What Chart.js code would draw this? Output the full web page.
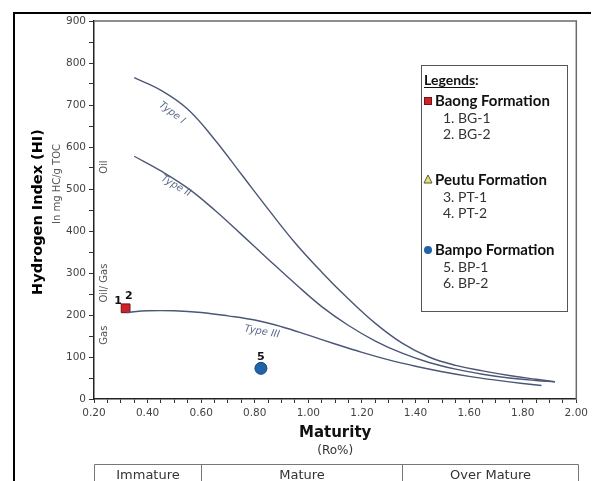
<!DOCTYPE html>
<html>
<head>
<meta charset="utf-8">
<script src="https://cdn.jsdelivr.net/npm/chart.js@4"></script>
<style>
  body { margin: 0; background: #fff; }
  #wrap { width: 592px; height: 481px; }
</style>
</head>
<body>
<div id="wrap"><canvas id="hiChart" width="592" height="481"></canvas></div>
<script>
// kerogen type curves (Ro%, HI)
const typeIRo = [0.35, 0.45, 0.55, 0.65, 0.75, 0.85, 0.95, 1.05, 1.15, 1.25, 1.35, 1.45, 1.55, 1.65, 1.75, 1.85, 1.92];
const typeIHI = [765, 735, 690, 618, 535, 452, 372, 302, 238, 180, 133, 100, 80, 67, 56, 47, 41];
const typeIIRo = [0.35, 0.45, 0.55, 0.65, 0.75, 0.85, 0.95, 1.05, 1.15, 1.25, 1.35, 1.45, 1.55, 1.65, 1.75, 1.85, 1.92];
const typeIIHI = [578, 543, 502, 450, 392, 333, 275, 220, 175, 138, 109, 87, 71, 59, 50, 44, 41];
const typeIIIRo = [0.32, 0.40, 0.50, 0.60, 0.70, 0.80, 0.90, 1.00, 1.10, 1.20, 1.30, 1.40, 1.50, 1.60, 1.70, 1.80, 1.87];
const typeIIIHI = [206, 210, 210, 206, 198, 188, 172, 152, 131, 111, 93, 78, 65, 54, 45, 37, 32];

// samples
const baongRo = [0.318];
const baongHI = [216];
const peutuRo = [];
const peutuHI = [];
const bampoRo = [0.823];
const bampoHI = [73];

const legendGroups = ['Baong Formation', 'Peutu Formation', 'Bampo Formation'];
const legendItems = [['1. BG-1', '2. BG-2'], ['3. PT-1', '4. PT-2'], ['5. BP-1', '6. BP-2']];
const zoneNames = ['Immature', 'Mature', 'Over Mature'];
const zoneEdges = [0.20, 0.60, 1.35, 2.007];

const pts = (xs, ys) => xs.map((x, i) => ({ x, y: ys[i] }));
const curveColor = '#4a5775';

function curve(label, xs, ys) {
  return {
    label, data: pts(xs, ys), showLine: true, pointRadius: 0,
    borderColor: curveColor, borderWidth: 1.4, tension: 0.4
  };
}

const decor = {
  id: 'decor',
  afterDraw(chart) {
    const { ctx, chartArea: a, scales: { x, y } } = chart;
    ctx.save();

    // outer frame
    ctx.strokeStyle = '#000';
    ctx.lineWidth = 2;
    ctx.beginPath();
    ctx.moveTo(14, 481); ctx.lineTo(14, 13); ctx.lineTo(591, 13);
    ctx.stroke();

    // plot top/right border
    ctx.strokeStyle = '#6b6b6b';
    ctx.lineWidth = 1.5;
    ctx.beginPath();
    ctx.moveTo(a.left, a.top); ctx.lineTo(a.right, a.top); ctx.lineTo(a.right, a.bottom);
    ctx.stroke();

    const text = (s, px, py, font, color, angle, align) => {
      ctx.save();
      ctx.translate(px, py);
      ctx.rotate((angle || 0) * Math.PI / 180);
      ctx.font = font;
      ctx.fillStyle = color;
      ctx.textAlign = align || 'center';
      ctx.textBaseline = 'middle';
      ctx.fillText(s, 0, 0);
      ctx.restore();
    };
    const at = (ro, hi) => [x.getPixelForValue(ro), y.getPixelForValue(hi)];

    // zone labels
    const zf = '10px "DejaVu Sans"';
    text('Oil', ...at(0.237, 552), zf, '#555', -90);
    text('Oil/ Gas', ...at(0.237, 276), zf, '#555', -90);
    text('Gas', ...at(0.237, 152), zf, '#555', -90);

    // curve labels
    const tf = 'italic 10px "DejaVu Sans"';
    text('Type I', ...at(0.491, 681), tf, '#5e6c8c', 37);
    text('Type II', ...at(0.506, 507), tf, '#5e6c8c', 30);
    text('Type III', ...at(0.827, 160), tf, '#5e6c8c', 10);

    // sample numbers
    const nf = 'bold 11px "DejaVu Sans"';
    text('1', ...at(0.29, 233), nf, '#111');
    text('2', ...at(0.33, 245), nf, '#111');
    text('5', ...at(0.823, 100), nf, '#111');

    // axis titles
    text('Hydrogen Index (HI)', 38, 212, 'bold 14.5px "DejaVu Sans"', '#000', -90);
    text('In mg HC/g TOC', 57, 184, '10px "DejaVu Sans"', '#555', -90);
    text('Maturity', (a.left + a.right) / 2, 433, 'bold 15px "DejaVu Sans"', '#111');
    text('(Ro%)', (a.left + a.right) / 2, 451, '12px "DejaVu Sans"', '#333');

    // legend box
    ctx.strokeStyle = '#555';
    ctx.lineWidth = 1;
    ctx.strokeRect(421.5, 65.5, 146, 246);
    text('Legends', 424, 80, 'bold 14px Lato', '#111', 0, 'left');
    ctx.font = 'bold 14px Lato';
    const lw = ctx.measureText('Legends').width;
    ctx.fillStyle = '#111';
    ctx.fillRect(424, 87, lw, 1);
    text(':', 424 + lw, 80, 'bold 14px Lato', '#111', 0, 'left');

    const groupY = [101, 180, 250];
    groupY.forEach((gy, i) => {
      if (i === 0) {
        ctx.fillStyle = '#d0202a'; ctx.strokeStyle = '#7a1212';
        ctx.fillRect(424, gy - 4, 8, 8); ctx.strokeRect(424.5, gy - 3.5, 7, 7);
      } else if (i === 1) {
        ctx.fillStyle = '#f0e060'; ctx.strokeStyle = '#555';
        ctx.beginPath(); ctx.moveTo(428, gy - 5); ctx.lineTo(432, gy + 3); ctx.lineTo(424, gy + 3); ctx.closePath();
        ctx.fill(); ctx.stroke();
      } else {
        ctx.fillStyle = '#1f63a8';
        ctx.beginPath(); ctx.arc(428, gy, 4, 0, Math.PI * 2); ctx.fill();
      }
      text(legendGroups[i], 435, gy, 'bold 15px Lato', '#111', 0, 'left');
      legendItems[i].forEach((s, j) => text(s, 443, gy + 17 + j * 16.5, '14px Lato', '#333', 0, 'left'));
    });

    // maturity zone table
    ctx.strokeStyle = '#777';
    ctx.lineWidth = 1;
    const px = zoneEdges.map(v => Math.round(x.getPixelForValue(v)) + 0.5);
    ctx.beginPath();
    ctx.moveTo(px[0], 490); ctx.lineTo(px[0], 464.5); ctx.lineTo(px[3], 464.5); ctx.lineTo(px[3], 490);
    ctx.moveTo(px[1], 464.5); ctx.lineTo(px[1], 490);
    ctx.moveTo(px[2], 464.5); ctx.lineTo(px[2], 490);
    ctx.stroke();
    zoneNames.forEach((s, i) => text(s, (px[i] + px[i + 1]) / 2, 476, '13px "DejaVu Sans"', '#333'));

    ctx.restore();
  }
};

new Chart(document.getElementById('hiChart'), {
  type: 'scatter',
  data: {
    datasets: [
      curve('Type I', typeIRo, typeIHI),
      curve('Type II', typeIIRo, typeIIHI),
      curve('Type III', typeIIIRo, typeIIIHI),
      { label: 'Baong Formation', data: pts(baongRo, baongHI), pointStyle: 'rect', pointRadius: 6.2,
        backgroundColor: '#d0202a', borderColor: '#7a1212', borderWidth: 1 },
      { label: 'Peutu Formation', data: pts(peutuRo, peutuHI), pointStyle: 'triangle', pointRadius: 5,
        backgroundColor: '#f0e060', borderColor: '#555', borderWidth: 1 },
      { label: 'Bampo Formation', data: pts(bampoRo, bampoHI), pointStyle: 'circle', pointRadius: 6,
        backgroundColor: '#1f63a8', borderColor: '#15477c', borderWidth: 1 }
    ]
  },
  options: {
    responsive: false,
    animation: false,
    layout: { padding: { left: 14, top: 21, right: 15, bottom: 0 } },
    plugins: { legend: { display: false }, tooltip: { enabled: false } },
    scales: {
      x: {
        type: 'linear', min: 0.2, max: 2.0,
        afterFit: s => { s.height = 82; },
        border: { color: '#222', width: 1.5 },
        grid: { drawOnChartArea: false, tickLength: 4, color: '#333' },
        ticks: {
          stepSize: 0.05, autoSkip: false, maxRotation: 0, padding: 4,
          color: '#444', font: { family: 'DejaVu Sans', size: 10.5 },
          callback: v => (Math.round(v * 100) % 20 === 0 ? v.toFixed(2) : '')
        }
      },
      y: {
        min: 0, max: 900,
        afterFit: s => { s.width = 80; },
        border: { color: '#222', width: 1.5 },
        grid: { drawOnChartArea: false, tickLength: 5, color: '#333' },
        ticks: {
          stepSize: 50, padding: 3,
          color: '#444', font: { family: 'DejaVu Sans', size: 10.5 },
          callback: v => (v % 100 === 0 ? v : '')
        }
      }
    }
  },
  plugins: [decor]
});
</script>
</body>
</html>
